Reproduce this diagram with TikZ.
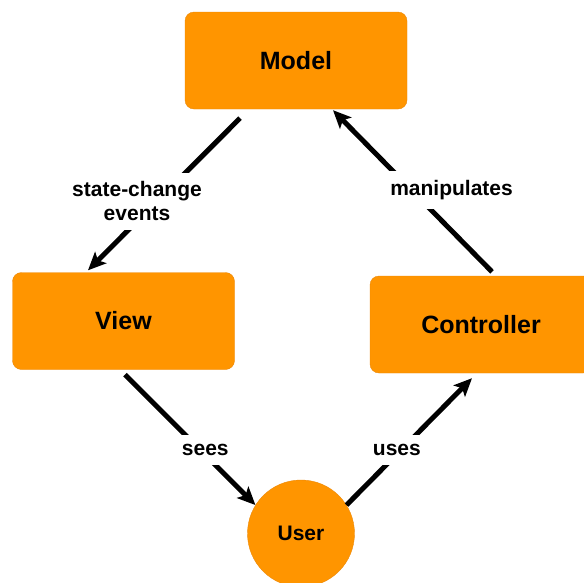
\documentclass[tikz,border=0pt]{standalone}
\usepackage{fontspec}
\setmainfont{Liberation Sans}
\usetikzlibrary{arrows.meta}

\definecolor{mvcorange}{RGB}{255,149,0}
\definecolor{mvcedge}{RGB}{236,137,10}

\tikzset{
  block/.style={draw=mvcedge, fill=mvcorange, rounded corners=9pt,
    minimum width=222pt, minimum height=97pt,
    font=\fontsize{25}{30}\selectfont\bfseries},
  actor/.style={circle, draw=mvcedge, fill=mvcorange, minimum size=107pt,
    inner sep=0pt, font=\fontsize{21}{25}\selectfont\bfseries},
  flow/.style={line width=5pt, -{Stealth[length=18pt,width=16pt,inset=4pt]}},
  tag/.style={fill=white, inner sep=9pt, align=center,
    font=\fontsize{21}{24}\selectfont\bfseries}
}

\begin{document}
\begin{tikzpicture}[x=1pt,y=-1pt]
\useasboundingbox (0,0) rectangle (584,582);
%components
\node[block] (model) at (296,60.5) {Model};
\node[block] (view) at (123.5,321) {View};
\node[block] (controller) at (481,324.5) {Controller};
\node[actor] (user) at (301,533.5) {User};
%flows
\draw[flow] ([xshift=-56pt,yshift=-9pt]model.south) -- ([xshift=-35.5pt,yshift=2pt]view.north)
  node[tag,pos=0.546,xshift=-20pt] {state-change\\events};
\draw[flow] ([xshift=11pt,yshift=4pt]controller.north) -- ([xshift=37pt,yshift=-1pt]model.south)
  node[tag,pos=0.506,xshift=40pt] {manipulates};
\draw[flow] ([xshift=1.5pt,yshift=-5pt]view.south) -- (user.148)
  node[tag,pos=0.577,xshift=5pt] {sees};
\draw[flow] (user.32) -- ([xshift=-9pt,yshift=-5pt]controller.south)
  node[tag,pos=0.433,xshift=-4pt] {uses};
\end{tikzpicture}
\end{document}
